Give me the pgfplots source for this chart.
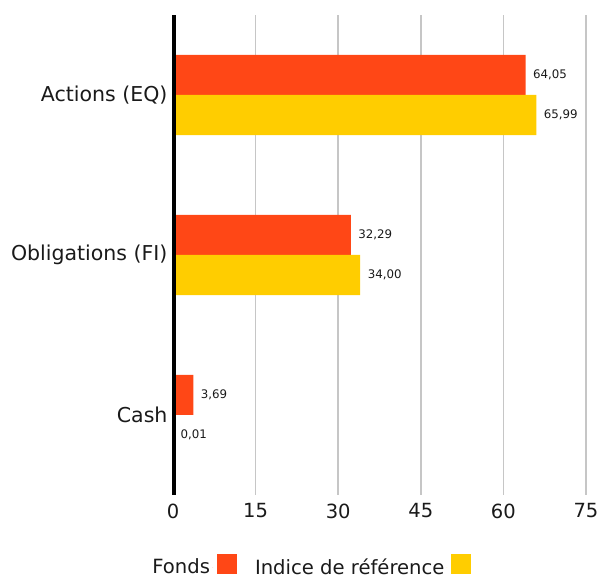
\documentclass[border=0pt]{standalone}
\usepackage{pgfplots}
\pgfplotsset{compat=1.18}
\usepackage{fontspec}
\setmainfont{DejaVu Sans}
\definecolor{fonds}{HTML}{FF4716}
\definecolor{indice}{HTML}{FFCD00}
\definecolor{gridgray}{HTML}{C6C6C6}
\definecolor{txt}{HTML}{1A1A1A}
\begin{document}
\begin{tikzpicture}
\begin{axis}[
  scale only axis, width=413pt, height=480pt,
  xmin=0, xmax=75, ymin=-0.5, ymax=2.5,
  xbar, bar width=40pt,
  xtick={0,15,...,75},
  ytick={0,1,2}, yticklabels={Cash, Obligations (FI), Actions (EQ)},
  axis line style={draw=none},
  major tick length=0pt,
  xmajorgrids, grid style={gridgray, line width=1.6pt},
  xticklabel style={font=\fontsize{19.5}{22}\selectfont, text=txt, yshift=-5pt},
  yticklabel style={font=\fontsize{20.5}{22}\selectfont, text=txt, xshift=-2pt},
  /pgf/number format/assume math mode=true,
  clip=false,
  nodes near coords={\pgfmathprintnumber[use comma,fixed,fixed zerofill,precision=2,assume math mode=true]{\pgfplotspointmeta}},
  nodes near coords style={font=\fontsize{11.8}{13}\selectfont, anchor=west, xshift=4pt, text=txt},
  legend style={at={(0.334,-0.148)}, anchor=center, draw=none, fill=none,
    legend columns=2, font=\fontsize{19.6}{21}\selectfont, text=txt,
    /tikz/every even column/.append style={column sep=16pt}},
  legend plot pos=right,
]
\addplot[fill=fonds, draw=none, bar shift=20pt,
  legend image code/.code={\path (0pt,0pt) -- (1pt,0pt); \fill[fonds] (5pt,-7pt) rectangle (25pt,13pt);}]
  coordinates {(64.05,2) (32.29,1) (3.69,0)};
\addlegendentry{Fonds}
\addplot[fill=indice, draw=none, bar shift=-20pt,
  legend image code/.code={\path (0pt,0pt) -- (1pt,0pt); \fill[indice] (5pt,-7pt) rectangle (25pt,13pt);}]
  coordinates {(65.99,2) (34.00,1) (0.01,0)};
\addlegendentry{Indice de référence}
\draw[black, line width=3.8pt] ([xshift=1pt]axis cs:0,-0.5) -- ([xshift=1pt]axis cs:0,2.5);
\end{axis}
\pgfresetboundingbox
\useasboundingbox (-173pt,-84pt) rectangle (425pt,495pt);
\end{tikzpicture}
\end{document}
